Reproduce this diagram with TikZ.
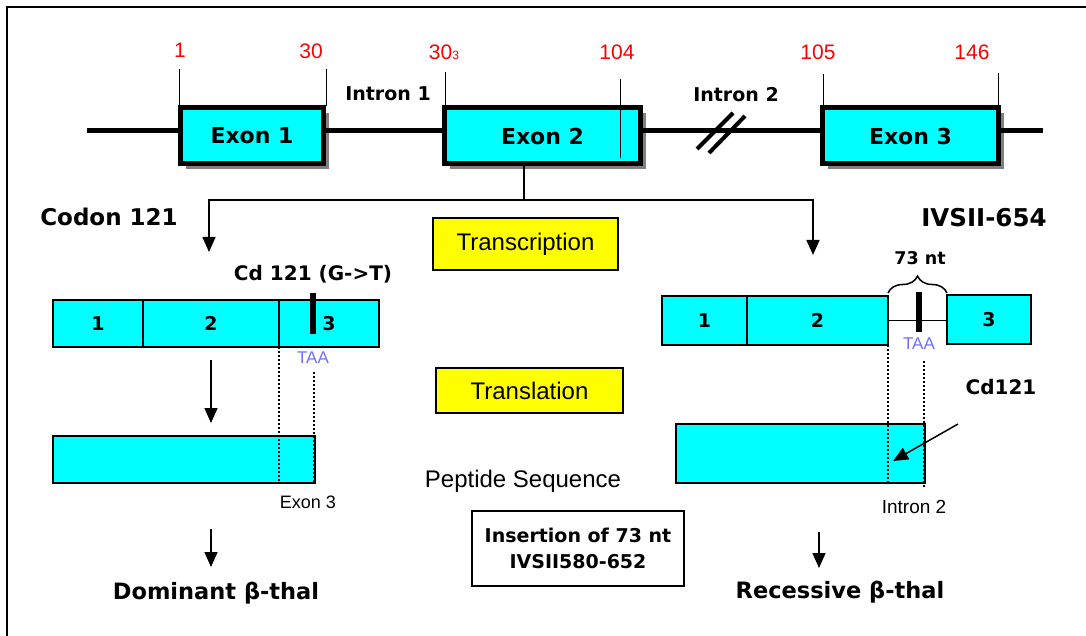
\documentclass[tikz,border=0pt]{standalone}
\usepackage{fontspec}
\setmainfont{Liberation Sans}
\newfontfamily\verdfont{DejaVu Sans}
\usetikzlibrary{arrows.meta,decorations.pathreplacing,shadows}
\definecolor{exoncyan}{RGB}{0,255,255}
\definecolor{stageyellow}{RGB}{255,255,0}
\definecolor{posred}{RGB}{255,0,0}
\definecolor{taablue}{RGB}{110,110,255}
\newcommand{\bfsz}[1]{\verdfont\bfseries\fontsize{#1}{#1}\selectfont}
\newcommand{\rmsz}[1]{\fontsize{#1}{#1}\selectfont}

\begin{document}
\begin{tikzpicture}[x=1pt,y=-1pt,
	exonbox/.style={draw,line width=5pt,fill=exoncyan,minimum height=56pt,inner sep=0pt,
		drop shadow={shadow xshift=5pt,shadow yshift=-5pt,fill=black!50,opacity=1},font=\bfsz{22}},
	segbox/.style={draw,line width=1.5pt,fill=exoncyan,inner sep=0pt,outer sep=0pt,font=\bfsz{19}},
	protbox/.style={draw,line width=1.2pt,fill=exoncyan,inner sep=0pt},
	stagebox/.style={draw,line width=1.5pt,fill=stageyellow,inner sep=0pt,font=\rmsz{24}},
	posnum/.style={text=posred,font=\rmsz{21}},
	btxt/.style={font=\bfsz{#1}},
	rtxt/.style={font=\rmsz{#1}},
	taa/.style={text=taablue,font=\rmsz{17}},
	geneline/.style={line width=5pt},
	tickline/.style={line width=1pt},
	arr/.style={line width=1.5pt,-{Triangle[length=15pt,width=13pt]}},
	dots/.style={line width=1.8pt,dash pattern=on 2pt off 2pt},
	stopbar/.style={line width=6pt}]
	\useasboundingbox (0,0) rectangle (1086,636);
	% frame
	\draw[line width=1.5pt] (1086,7) -- (7,7) -- (7,636);

	% gene with three exons
	\coordinate (g0) at (87,131);
	\coordinate (g1) at (1043,131);
	\node[exonbox,minimum width=143pt] (e1) at (252,136) {Exon 1};
	\node[exonbox,minimum width=196pt] (e2) at (542.5,136) {Exon 2};
	\node[exonbox,minimum width=176pt] (e3) at (910.5,136) {Exon 3};
	\draw[geneline] (g0) -- (e1.west |- g0);
	\draw[geneline] (e1.east |- g0) -- (e2.west |- g0);
	\draw[geneline] (e2.east |- g0) -- (e3.west |- g0);
	\draw[geneline] (e3.east |- g0) -- (g1);
	% break in intron 2
	\draw[line width=4pt] (697,149) -- (733,113) (709,153) -- (745,116);

	% codon positions
	\node[posnum] (n1) at (180,50) {1};
	\node[posnum] (n30) at (311,51) {30};
	\node[posnum] (n31) at (444,52) {30{\rmsz{12}3}};
	\node[posnum] (n104) at (617,52) {104};
	\node[posnum] (n105) at (818,52) {105};
	\node[posnum] (n146) at (972,52) {146};
	\draw[tickline] (179,69) -- (179,106);
	\draw[tickline] (326,69) -- (326,106);
	\draw[tickline] (445,72) -- (445,106);
	\draw[tickline] (620,79) -- (620,158);
	\draw[tickline] (823,74) -- (823,106);
	\draw[tickline] (998,73) -- (998,106);
	\node[btxt=19] (i1) at (388,94) {Intron 1};
	\node[btxt=19] (i2) at (736,95) {Intron 2};

	% split to both mutations
	\coordinate (sp) at (524,200);
	\coordinate (la) at (209,252);
	\coordinate (ra) at (813,255);
	\draw[line width=1.5pt] (e2.south -| sp) -- (sp);
	\draw[arr] (sp) -| (la);
	\draw[arr] (sp) -| (ra);

	\node[btxt=23] (cod) at (109,217) {Codon 121};
	\node[btxt=24.5] (ivs) at (984,218) {IVSII-654};
	\node[stagebox,minimum width=185pt,minimum height=52pt] (tsc) at (525.5,244) {Transcription};
	\node[stagebox,minimum width=187pt,minimum height=45pt] (tsl) at (529.5,390.5) {Translation};

	% left: codon 121
	\node[segbox,minimum width=90pt,minimum height=47pt,anchor=west] (lm1) at (53,323.5) {1};
	\node[segbox,minimum width=136pt,minimum height=47pt,anchor=west] (lm2) at (lm1.east) {2};
	\node[segbox,minimum width=100pt,minimum height=47pt,anchor=west] (lm3) at (lm2.east) {3};
	\draw[stopbar] (313,293) -- (313,334);
	\node[btxt=20] (cdl) at (313,274) {Cd 121 (G->T)};
	\node[taa] (taal) at (313,358) {TAA};
	\node[protbox,minimum width=262pt,minimum height=47pt] (lp) at (184,459.5) {};
	\draw[dots] (lm3.south west) -- (lm3.south west |- lp.south);
	\draw[dots] (314,372) -- (314,483);
	\coordinate (la2a) at (211,360);
	\coordinate (la2b) at (211,423);
	\draw[arr] (la2a) -- (la2b);
	\node[rtxt=18] (ex3) at (308,502) {Exon 3};
	\coordinate (la3a) at (211,529);
	\coordinate (la3b) at (211,567);
	\draw[arr] (la3a) -- (la3b);
	\node[btxt=22.5] (dom) at (216,593) {Dominant β-thal};

	% right: IVSII-654
	\node[segbox,minimum width=85pt,minimum height=49pt,anchor=west] (rm1) at (662,320.5) {1};
	\node[segbox,minimum width=141pt,minimum height=49pt,anchor=west] (rm2) at (rm1.east) {2};
	\node[segbox,minimum width=84pt,minimum height=49pt,anchor=west] (rm3) at (947,319.5) {3};
	\draw[line width=1.5pt] (rm2.east) -- (rm2.east -| rm3.west);
	\draw[stopbar] (919,292) -- (919,332);
	\draw[line width=1.5pt,decorate,decoration={brace,amplitude=17pt}] (888,293) -- (947,293);
	\node[btxt=17.5] (nt) at (920,258) {73 nt};
	\node[taa] (taar) at (919,344) {TAA};
	\node[protbox,minimum width=249pt,minimum height=59pt] (rp) at (800.5,453.5) {};
	\draw[dots] (rm2.south east) -- (rm2.south east |- rp.south);
	\draw[dots] (924,361) -- (924,488);
	\node[btxt=20] (cdr) at (1001,387) {Cd121};
	\coordinate (cda) at (958,424);
	\coordinate (cdb) at (893,461);
	\draw[arr] (cda) -- (cdb);
	\node[rtxt=19] (in2) at (914,507) {Intron 2};
	\coordinate (ra3a) at (819,532);
	\coordinate (ra3b) at (819,568);
	\draw[arr] (ra3a) -- (ra3b);
	\node[btxt=22.5] (rec) at (840,592) {Recessive β-thal};

	% middle
	\node[rtxt=24] (pep) at (523,481) {Peptide Sequence};
	\node[draw,line width=1.5pt,minimum width=212pt,minimum height=75pt,align=center,
		font=\bfsz{19}] (ins) at (578,548.5) {Insertion of 73 nt\\[7pt]IVSII580-652};
\end{tikzpicture}
\end{document}
